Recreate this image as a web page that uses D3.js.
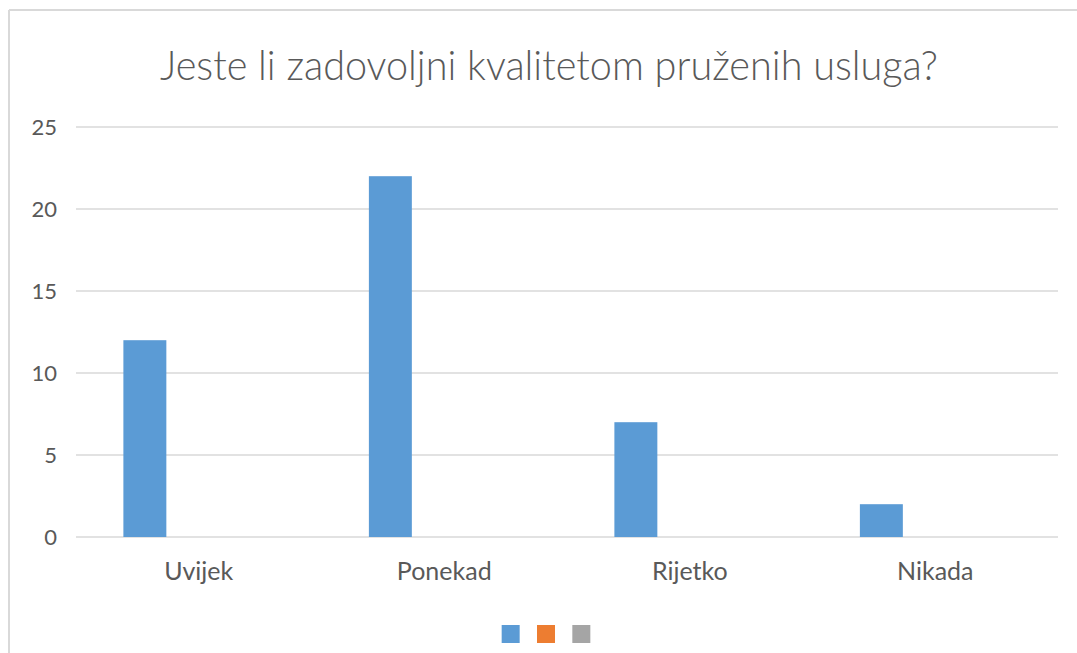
<!DOCTYPE html>
<html>
<head>
<meta charset="utf-8">
<script src="https://cdn.jsdelivr.net/npm/d3@7"></script>
<style>
  html, body { margin: 0; padding: 0; background: #fff; }
  svg { display: block; }
</style>
</head>
<body>
<svg id="chart"></svg>
<script>
const categories = ['Uvijek', 'Ponekad', 'Rijetko', 'Nikada'];
const seriesNames = ['Niz 1', 'Niz 2', 'Niz 3'];
const series1 = [12, 22, 7, 2];
const series2 = [0, 0, 0, 0];
const series3 = [0, 0, 0, 0];
const yTicks = [0, 5, 10, 15, 20, 25];
const colors = ['#5b9bd5', '#ed7d31', '#a5a5a5'];
const title = 'Jeste li zadovoljni kvalitetom pruženih usluga?';

const W = 1077, H = 653;
const plot = { left: 76, right: 1058, top: 127, bottom: 537 };

const svg = d3.select('#chart').attr('width', W).attr('height', H);

// chart frame (top and left edges visible)
svg.append('line').attr('x1', 9).attr('x2', W).attr('y1', 10).attr('y2', 10)
  .attr('stroke', '#d9d9d9').attr('stroke-width', 2);
svg.append('line').attr('x1', 9).attr('x2', 9).attr('y1', 10).attr('y2', H)
  .attr('stroke', '#d9d9d9').attr('stroke-width', 2);

svg.append('text')
  .attr('x', 549).attr('y', 80)
  .attr('text-anchor', 'middle')
  .attr('font-family', 'Lato, sans-serif')
  .attr('font-weight', 300)
  .attr('font-size', 41)
  .attr('fill', '#595959')
  .attr('textLength', 778)
  .attr('lengthAdjust', 'spacingAndGlyphs')
  .text(title);

const y = d3.scaleLinear().domain([0, 25]).range([plot.bottom, plot.top]);
const x0 = d3.scaleBand().domain(categories).range([plot.left, plot.right]);
const bw = x0.bandwidth();
const x1 = d3.scaleBand().domain(seriesNames).range([bw * 0.193, bw * 0.718]);

// gridlines
svg.append('g').selectAll('line').data(yTicks).enter().append('line')
  .attr('x1', plot.left).attr('x2', plot.right)
  .attr('y1', d => y(d)).attr('y2', d => y(d))
  .attr('stroke', '#d9d9d9').attr('stroke-width', 1.5);

// y axis labels
const yAxis = d3.axisLeft(y).tickValues(yTicks).tickSize(0).tickPadding(0);
const gy = svg.append('g').attr('transform', `translate(57,0)`).call(yAxis);
gy.select('.domain').remove();
gy.selectAll('text')
  .attr('font-family', 'Lato, sans-serif').attr('font-size', 22)
  .attr('fill', '#595959');

// x axis labels
const xAxis = d3.axisBottom(x0).tickSize(0).tickPadding(0);
const gx = svg.append('g').attr('transform', `translate(0,${plot.bottom + 25})`).call(xAxis);
gx.select('.domain').remove();
gx.selectAll('text')
  .attr('font-family', 'Lato, sans-serif').attr('font-size', 25)
  .attr('fill', '#595959');

// bars
const allSeries = [series1, series2, series3];
const rows = [];
categories.forEach((c, i) => {
  seriesNames.forEach((s, j) => rows.push({ cat: c, ser: s, idx: j, value: allSeries[j][i] }));
});
svg.append('g').selectAll('rect').data(rows.filter(d => d.value > 0)).enter().append('rect')
  .attr('x', d => x0(d.cat) + x1(d.ser))
  .attr('width', x1.bandwidth())
  .attr('y', d => y(d.value))
  .attr('height', d => y(0) - y(d.value))
  .attr('fill', d => colors[d.idx]);

// legend (swatches only)
const lx = d3.scaleBand().domain(seriesNames).range([493, 599]);
svg.append('g').selectAll('rect').data(seriesNames).enter().append('rect')
  .attr('x', d => lx(d) + (lx.bandwidth() - 18) / 2)
  .attr('y', 625)
  .attr('width', 18).attr('height', 18)
  .attr('fill', (d, i) => colors[i]);
</script>
</body>
</html>
